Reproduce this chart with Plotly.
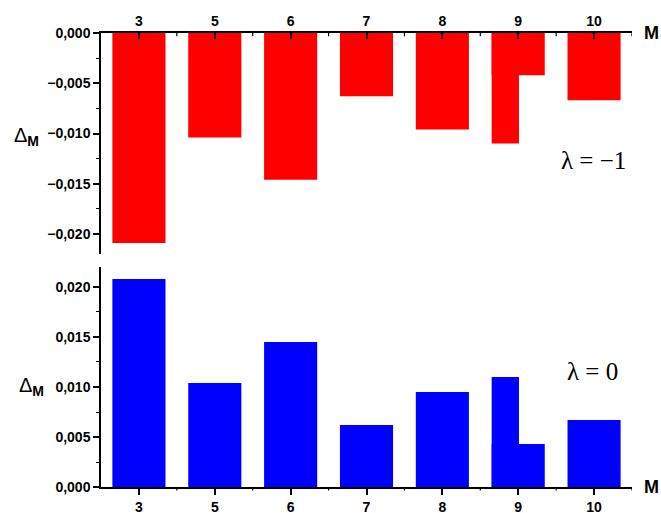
import plotly.graph_objects as go

categories = ["3", "5", "6", "7", "8", "9", "10"]
# lambda = -1 (top panel)
neg_values = [-0.0209, -0.0104, -0.0146, -0.0063, -0.0096, -0.0110, -0.0067]
neg_extra_cat = ["9"]
neg_extra_val = [-0.0042]
# lambda = 0 (bottom panel)
pos_values = [0.0208, 0.0104, 0.0145, 0.0062, 0.0095, 0.0110, 0.0067]
pos_extra_cat = ["9"]
pos_extra_val = [0.0043]

widths = [0.36 if c == "9" else 0.7 for c in categories]
offsets = [-0.35] * len(categories)

RED = "#ff0000"
BLUE = "#0000ff"
FONT = "Liberation Sans, Arial, sans-serif"
SERIF = "Liberation Serif, Times New Roman, serif"

fig = go.Figure()
fig.add_trace(go.Bar(x=neg_extra_cat, y=neg_extra_val, width=[0.7], offset=[-0.35],
                     marker=dict(color=RED, line=dict(width=0)), xaxis="x", yaxis="y"))
fig.add_trace(go.Bar(x=categories, y=neg_values, width=widths, offset=offsets,
                     marker=dict(color=RED, line=dict(width=0)), xaxis="x", yaxis="y"))
fig.add_trace(go.Bar(x=pos_extra_cat, y=pos_extra_val, width=[0.7], offset=[-0.35],
                     marker=dict(color=BLUE, line=dict(width=0)), xaxis="x2", yaxis="y2"))
fig.add_trace(go.Bar(x=categories, y=pos_values, width=widths, offset=offsets,
                     marker=dict(color=BLUE, line=dict(width=0)), xaxis="x2", yaxis="y2"))

tickfont = dict(family=FONT, size=14, color="black", weight="bold")

common_x = dict(type="category", categoryorder="array", categoryarray=categories,
                range=[-0.5, 6.5], showline=True, linecolor="black", linewidth=1.5,
                ticklen=6, tickwidth=1.5, tickcolor="black", showgrid=False,
                zeroline=False, tickfont=tickfont, automargin=False)
common_y = dict(showline=True, linecolor="black", linewidth=1.5, ticks="outside",
                ticklen=6, tickwidth=1.5, tickcolor="black", showgrid=False,
                zeroline=False, tickfont=tickfont, tickformat=".3f", dtick=0.005,
                automargin=False,
                minor=dict(ticks="outside", ticklen=3, tickwidth=1.2, tickcolor="black",
                           dtick=0.0025, showgrid=False))

fig.update_layout(
    width=661, height=513,
    margin=dict(l=101, r=29, t=33, b=26),
    paper_bgcolor="white", plot_bgcolor="white",
    showlegend=False, barmode="overlay", separators=",.",
    xaxis=dict(common_x, domain=[0, 1], anchor="y", side="top", ticks="inside"),
    yaxis=dict(common_y, domain=[0.513, 1], anchor="x", range=[-0.022, 0], tick0=0),
    xaxis2=dict(common_x, domain=[0, 1], anchor="y2", side="bottom", ticks="outside"),
    yaxis2=dict(common_y, domain=[0, 0.4846], anchor="x2", range=[0, 0.022], tick0=0),
)

# minor x ticks between categories
for i in range(len(categories)):
    xm = i + 0.5
    fig.add_shape(type="line", xref="x", yref="y domain", x0=xm, x1=xm, y0=1, y1=0.985,
                  line=dict(color="black", width=1.2))
    fig.add_shape(type="line", xref="x2", yref="y2 domain", x0=xm, x1=xm, y0=0, y1=-0.016,
                  line=dict(color="black", width=1.2))

ann = []
ann.append(dict(text="Δ<sub><b>M</b></sub>", xref="paper", yref="paper", x=-0.141, y=0.773,
                xanchor="center", yanchor="middle",
                showarrow=False, font=dict(family=FONT, size=20, color="black")))
ann.append(dict(text="Δ<sub><b>M</b></sub>", xref="paper", yref="paper", x=-0.131, y=0.222,
                xanchor="center", yanchor="middle",
                showarrow=False, font=dict(family=FONT, size=20, color="black")))
ann.append(dict(text="<b>M</b>", xref="paper", yref="paper", x=1.018, y=1.0, xanchor="left",
                yanchor="middle", showarrow=False, font=dict(family=FONT, size=18, color="black")))
ann.append(dict(text="<b>M</b>", xref="paper", yref="paper", x=1.018, y=0.0, xanchor="left",
                yanchor="middle", showarrow=False, font=dict(family=FONT, size=18, color="black")))
ann.append(dict(text="λ = −1", xref="paper", yref="paper", x=0.992, y=0.72, xanchor="right",
                yanchor="middle", showarrow=False, font=dict(family=SERIF, size=25, color="black")))
ann.append(dict(text="λ = 0", xref="paper", yref="paper", x=0.978, y=0.2555, xanchor="right",
                yanchor="middle", showarrow=False, font=dict(family=SERIF, size=25, color="black")))
fig.update_layout(annotations=ann)

fig.write_html("out.html", config={"displayModeBar": False},
               post_script="document.body.style.margin='0';document.body.style.overflow='hidden';")
